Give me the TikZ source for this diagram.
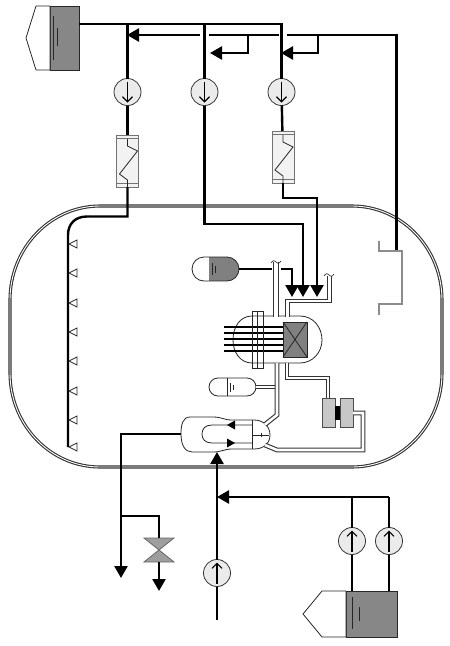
\documentclass[tikz,border=0pt]{standalone}
\usepackage{amsmath,amssymb}
\usetikzlibrary{arrows.meta, positioning, calc, shapes.misc}

\begin{document}
\begin{tikzpicture}[
    x=1pt, y=-1pt,
    node distance=30pt and 20pt,
    main/.style={draw=black, line width=2.4pt},
    head/.style={main, -{Triangle[length=12pt, width=13pt]}},
    thinline/.style={draw=black!85, line width=0.8pt},
    pipe/.style={draw=black!80, double=white, line width=1.1pt, double distance=2.6pt, line join=miter},
    hotpipe/.style={pipe, double distance=4.6pt},
    wall/.style={draw=black!80, double=white, line width=1.1pt, double distance=0.9pt},
    pump/.style={draw=black!80, circle, minimum size=27pt, inner sep=0pt, outer sep=0pt, fill=black!8, line width=0.8pt},
    hx/.style={draw=black!55, rectangle, minimum width=22pt, minimum height=52pt, inner sep=0pt, outer sep=0pt, fill=black!5, line width=1pt},
    tank/.style={draw=black!85, rectangle, inner sep=0pt, outer sep=0pt, fill=black!47, line width=0.8pt},
    block/.style={draw=black!70, rectangle, minimum width=13pt, minimum height=29pt, inner sep=0pt, outer sep=0pt, fill=black!22, line width=0.8pt},
    bottle/.style={draw=black!85, rounded rectangle, inner sep=0pt, outer sep=0pt, fill=white, line width=0.8pt},
    sump/.style={draw=black!45, line width=1.6pt},
    flow/.style={-{Straight Barb[length=5pt, width=10pt]}, draw=black, line width=1.1pt, shorten >=3pt, shorten <=3pt},
    >=Latex,
]
    \useasboundingbox (0,0) rectangle (450,646);

    \draw[wall] (100,206) -- (352,206) arc[start angle=-90, end angle=0, x radius=90, y radius=94]
        -- (442,373) arc[start angle=0, end angle=90, x radius=90, y radius=94]
        -- (100,467) arc[start angle=90, end angle=180, x radius=90, y radius=94]
        -- (10,300) arc[start angle=180, end angle=270, x radius=90, y radius=94] -- cycle;

    \node[tank, minimum width=29pt, minimum height=64pt] (store) at (64.5,38) {};
    \draw[thinline, fill=white] (store.north west) -- (36,6) -- (26,38) -- (36,70) -- (store.south west) -- cycle;
    \draw[thinline] (53,16) -- (53,60) (57.5,28) -- (57.5,46);

    \node[pump]                   (pumpa) at (127.5,92)  {};
    \node[pump, right=50pt of pumpa] (pumpb) {};
    \node[pump, right=50pt of pumpb] (pumpc) {};
    \node[hx] (hxa) at (127.5,161) {};
    \node[hx] (hxc) at (283,157)   {};
    \coordinate (taptop) at (79,24);
    \coordinate (teea) at (pumpa |- taptop);
    \coordinate (teeb) at (pumpb |- taptop);

    \draw[main] (taptop) -| (pumpc);
    \draw[main] (teea) -- (pumpa);
    \draw[main] (teeb) -- (pumpb);
    \draw[main] (pumpa) -- (hxa);
    \draw[main] (pumpc) -- (hxc);

    \coordinate (sumptop) at (396.5,251);
    \coordinate (ringr) at (396.5,35);
    \coordinate (gapcr) at (287,35);
    \coordinate (gapcl) at (279,35);
    \coordinate (gapbr) at (209,35);
    \coordinate (gapbl) at (200,35);
    \coordinate (ringl) at (127,35);
    \draw[main] (sumptop) -- (ringr) -- (gapcr);
    \draw[main] (gapcl) -- (gapbr);
    \draw[head] (gapbl) -- (ringl);
    \draw[main] (318,35) -- (318,53) -- (293,53);
    \draw[head] (300,53) -- (281,53);
    \draw[main] (248,35) -- (248,53) -- (222,53);
    \draw[head] (230,53) -- (210,53);

    \foreach \p in {hxa,hxc} {
        \draw[thinline, draw=black!55] ($(\p.north west)+(0,3.5)$) -- ($(\p.north east)+(0,3.5)$);
        \draw[thinline, draw=black!55] ($(\p.south west)+(0,-3.5)$) -- ($(\p.south east)+(0,-3.5)$);
        \draw[thinline] ($(\p.north)+(0,4)$) -- ++(0,7) -- ++(10,5) -- ++(-18,23) -- ++(8,6) -- ++(0,7);
    }

    \coordinate (spraybend) at (87,216.5);
    \coordinate (sprayend) at (68,447);
    \draw[main] (hxa) |- (spraybend) .. controls (75,216.5) and (68,224) .. (68,235) -- (sprayend);
    \foreach \y in {244,273,303,332,361,391,420,447}
        \draw[thinline, fill=white] (69,\y) -- ++(8,-4) -- ++(0,8) -- cycle;

    \draw[main] (pumpb) |- (303,224) -- (303,285);
    \draw[main] (hxc) |- (317,198) -- (317,285);

    \draw[sump] (379,241) -- (379,251) -- (402,251) -- (402,304) -- (379,304) -- (379,315);

    \draw[thinline, fill=white] (252,316) .. controls (240,316) and (233,327) .. (233,340)
        .. controls (233,352) and (240,363) .. (252,363) -- (300,363)
        .. controls (313,363) and (322,352) .. (322,340)
        .. controls (322,327) and (313,316) .. (300,316) -- cycle;

    \node[bottle, minimum width=47pt, minimum height=24pt,
        path picture={\fill[black!50] ($(path picture bounding box.north west)+(17,0)$) rectangle (path picture bounding box.south east);}]
        (accu) at (215.5,269) {};
    \draw[thinline] (212,263) -- (212,275) (215,266) -- (215,273);

    \node[bottle, minimum width=47pt, minimum height=18pt] (pres) at (232.5,387) {};
    \draw[thinline] (227,378) -- (227,396) (230,383) -- (230,392) (233,385) -- (233,390);

    \node[block, minimum width=13pt] (rcpl) at (328.5,412.5) {};
    \node[block, minimum width=13pt, right=5pt of rcpl] (rcpr) {};
    \node[rectangle, fill=black, inner sep=0pt, minimum width=5pt, minimum height=14pt, right=0pt of rcpl] (rcpm) {};

    \draw[thinline, fill=white] (190,417) -- (213,417) .. controls (222,417) and (224,420) .. (232,420)
        -- (254,420) .. controls (264,420) and (270,427) .. (270,435)
        .. controls (270,443) and (264,449) .. (254,449) -- (232,449)
        .. controls (224,449) and (222,452) .. (213,452) -- (192,452)
        .. controls (185,452) and (181,445) .. (181,434)
        .. controls (181,424) and (183,417) .. (190,417) -- cycle;
    \draw[thinline] (252,420) -- (252,449) (252,435) -- (269,435) (261,433) -- (261,437);
    \draw[thinline] (252,425) -- (212,425) .. controls (205,425) and (202,429) .. (202,434)
        .. controls (202,439) and (205,443) .. (212,443) -- (252,443);
    \fill[black] (227,425) -- (235,420.5) -- (235,429.5) -- cycle;
    \fill[black] (235,443) -- (227,438.5) -- (227,447.5) -- cycle;

    \coordinate (sgsteam) at (181,434);
    \coordinate (steambend) at (121,434);
    \coordinate (steamend) at (121,578);
    \coordinate (teesteam) at (121,516);
    \draw[head] (sgsteam) -- (steambend) -- (steamend);
    \coordinate (valve) at (159,550);
    \fill[black!38] (144,538) -- (174,538) -- (144,562) -- (174,562) -- cycle;
    \draw[thinline, draw=black!60] (144,538) -- (174,538) -- (144,562) -- (174,562) -- cycle;
    \draw[main] (teesteam) -| (159,538);
    \coordinate (valveout) at (159,562);
    \coordinate (valveend) at (159,591);
    \draw[head] (valveout) -- (valveend);

    \node[pump] (feedp) at (217,573) {};
    \node[pump] (auxa) at (352,541) {};
    \node[pump, right=10pt of auxa] (auxb) {};
    \node[tank, minimum width=51pt, minimum height=46pt] (cond) at (371.5,614) {};
    \draw[thinline, fill=white] (cond.north west) -- (322,591) -- (303,614) -- (322,637) -- (cond.south west) -- cycle;
    \draw[thinline] (352,597) -- (352,629) (359,607) -- (359,621);
    \coordinate (feedend) at (217,620);
    \coordinate (sgfeed) at (217,452);
    \coordinate (hdr) at (389,497);
    \coordinate (hdrtip) at (217,497);
    \draw[main] (feedend) -- (feedp);
    \draw[head] (feedp) -- (sgfeed);
    \draw[head] (hdr) -- (hdrtip);
    \draw[main] (auxb) -- (hdr);
    \draw[main] (auxa) -- (auxa |- hdr);
    \draw[main] (cond.north -| auxa) -- (auxa);
    \draw[main] (cond.north -| auxb) -- (auxb);

    \draw[pipe] (pres.east) -- (277,387);
    \draw[pipe] (277,363) -- (277,415) -- (265,424.5);
    \draw[pipe] (287,363) -- (287,378) -- (328,378) -- (328,398);
    \draw[pipe] (rcpr.east |- 0,413) -- (363,413) -- (363,450) -- (277,450) -- (265,445);
    \draw[hotpipe] (276,262) -- (276,317);
    \draw[pipe] (287.5,317) -- (287.5,301) -- (329.5,301) -- (329.5,276);

    \draw[main] (accu.east) -- (272,269);
    \draw[main] (281,269) -- (292,269) -- (292,285);

    \foreach \x in {292,303,317}
        \draw[head] (\x,284) -- (\x,297);

    \draw[thinline, line width=0.6pt] (271,263) .. controls (273,260) and (275,260) .. (276,262) .. controls (277,264) and (279,264) .. (281,261);
    \draw[thinline, line width=0.6pt] (324,276) .. controls (326,273) and (328,273) .. (329,275) .. controls (330,277) and (332,277) .. (334,274);

    \foreach \y/\w in {327/1.8,333/1.1,339/1.4,345/1.8,351/1.1}
        \draw[draw=black, line width=\w pt] (224,\y) -- (283,\y);
    \node[draw=black!85, fill=black!50, rectangle, inner sep=0pt, outer sep=0pt, minimum width=24pt, minimum height=35pt, line width=0.8pt] (core) at (295,339.5) {};
    \draw[thinline] (core.north west) -- (core.south east) (core.north east) -- (core.south west);
    \node[draw=black!85, rectangle, inner sep=0pt, outer sep=0pt, minimum width=11pt, minimum height=57pt, line width=0.8pt] (flange) at (257.5,339.5) {};
    \draw[thinline] (flange.north) -- (flange.south);

    \foreach \p in {pumpa,pumpb,pumpc} \draw[flow] (\p.north) -- (\p.south);
    \foreach \p in {feedp,auxa,auxb} \draw[flow] (\p.south) -- (\p.north);
\end{tikzpicture}
\end{document}
